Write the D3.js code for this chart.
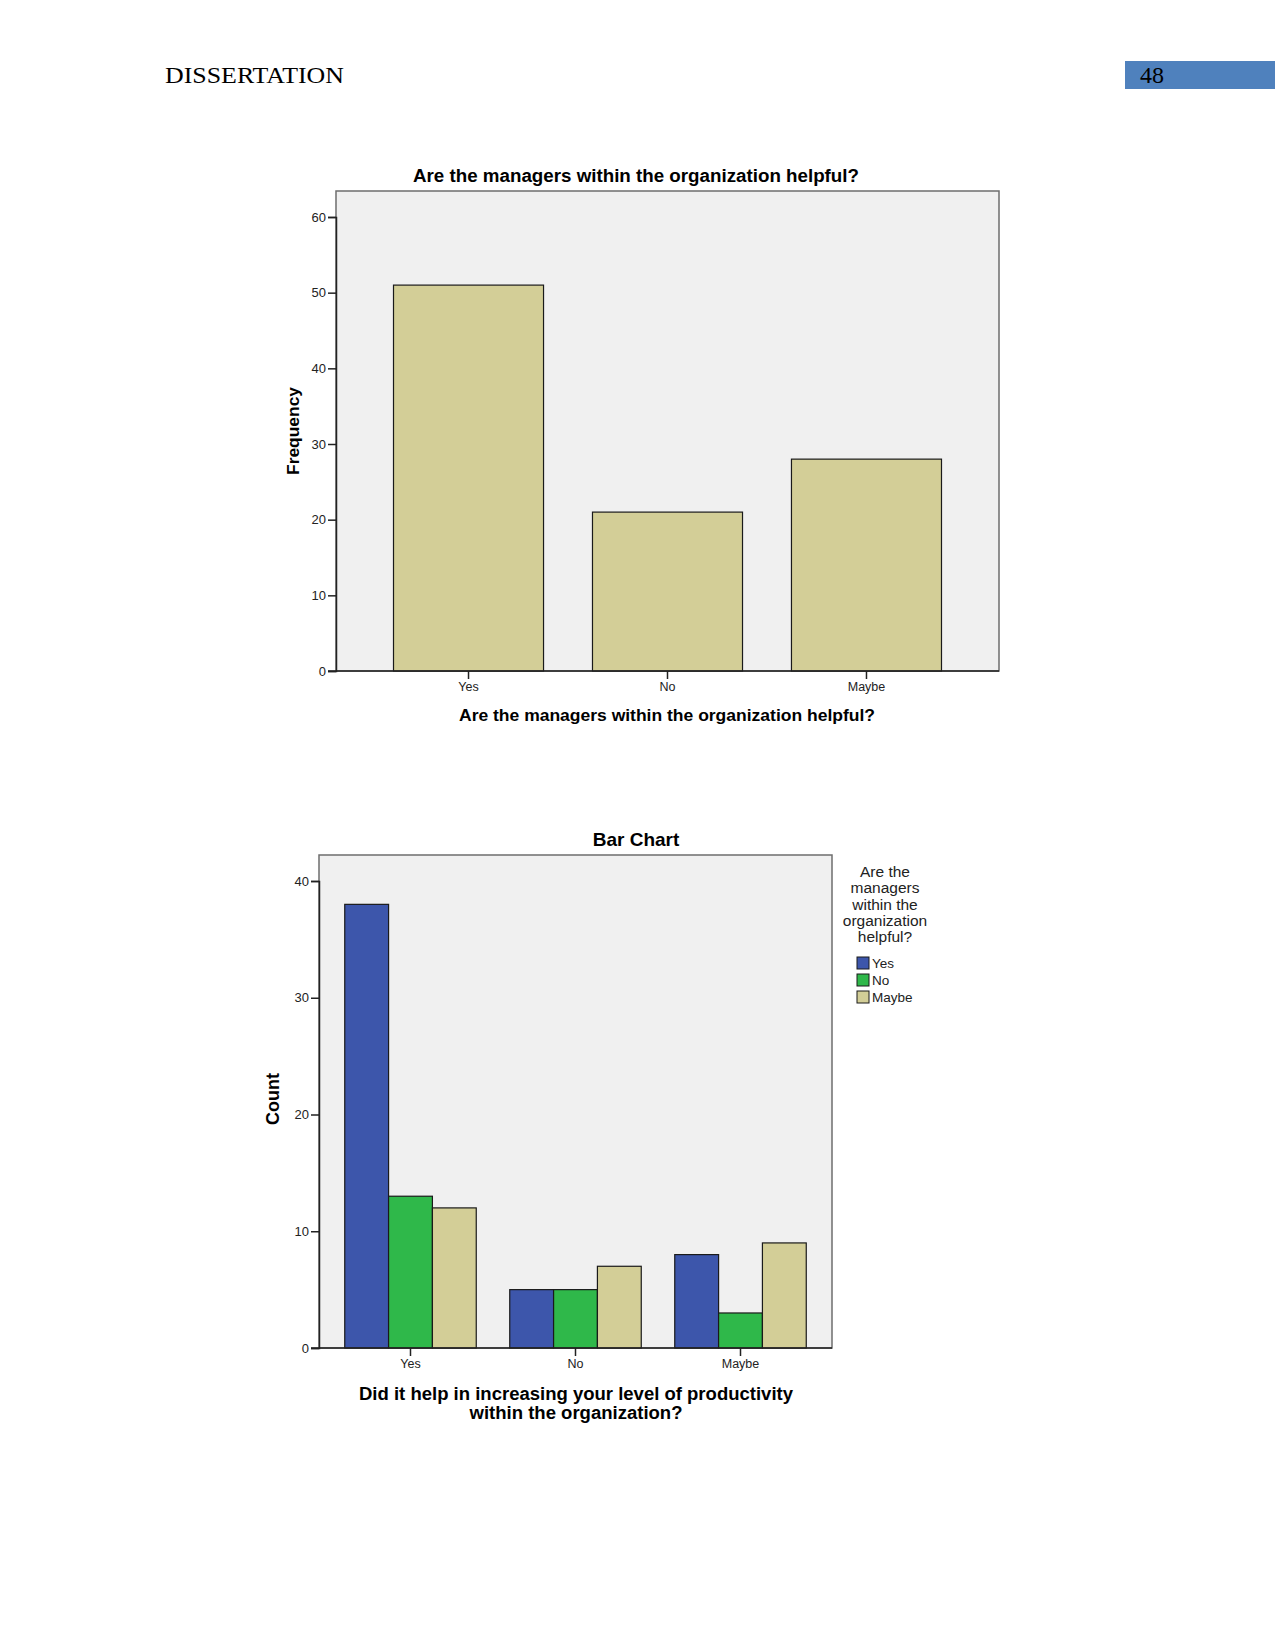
<!DOCTYPE html>
<html>
<head>
<meta charset="utf-8">
<script src="https://cdn.jsdelivr.net/npm/d3@7"></script>
<style>
  html, body { margin: 0; padding: 0; background: #ffffff; }
  svg { display: block; }
</style>
</head>
<body>
<svg id="page" width="1275" height="1650"></svg>
<script>
// ---- Data ----
const headerTitle = "DISSERTATION";
const pageNumber = "48";

const chart1Title = "Are the managers within the organization helpful?";
const chart1XTitle = "Are the managers within the organization helpful?";
const chart1YTitle = "Frequency";
const chart1Categories = ["Yes", "No", "Maybe"];
const chart1Values = [51, 21, 28];
const chart1Ticks = [0, 10, 20, 30, 40, 50, 60];

const chart2Title = "Bar Chart";
const chart2XTitleLines = ["Did it help in increasing your level of productivity", "within the organization?"];
const chart2YTitle = "Count";
const chart2Categories = ["Yes", "No", "Maybe"];
const chart2Series = ["Yes", "No", "Maybe"];
const chart2Values = {
  Yes:   [38, 5, 8],
  No:    [13, 5, 3],
  Maybe: [12, 7, 9]
};
const chart2Ticks = [0, 10, 20, 30, 40];
const legendTitleLines = ["Are the", "managers", "within the", "organization", "helpful?"];
const seriesColors = ["#3d56ab", "#2fb84a", "#d3ce97"];

// ---- Drawing ----
const svg = d3.select("#page");
const FONT = "'Liberation Sans', Arial, sans-serif";
const SERIF = "'Liberation Serif', 'Times New Roman', serif";

// Header
svg.append("text").attr("x", 165).attr("y", 83)
  .attr("font-family", SERIF).attr("font-size", 24).attr("fill", "#000")
  .attr("textLength", 179).attr("lengthAdjust", "spacingAndGlyphs").text(headerTitle);
svg.append("rect").attr("x", 1125).attr("y", 61).attr("width", 150).attr("height", 28)
  .attr("fill", "#4f81bd");
svg.append("text").attr("x", 1140).attr("y", 83)
  .attr("font-family", SERIF).attr("font-size", 24).attr("fill", "#000")
  .attr("textLength", 24).attr("lengthAdjust", "spacingAndGlyphs").text(pageNumber);

function drawFrame(g, x0, y0, x1, y1) {
  g.append("rect").attr("x", x0).attr("y", y0).attr("width", x1 - x0).attr("height", y1 - y0)
    .attr("fill", "#f0f0f0").attr("stroke", "#6e6e6e").attr("stroke-width", 1.5);
}

function drawYAxis(g, y, x0, ticks) {
  const ax = g.append("g").attr("transform", `translate(${x0},0)`)
    .call(d3.axisLeft(y).tickValues(ticks).tickSize(8).tickPadding(2).tickFormat(d3.format("d")));
  ax.select(".domain").attr("stroke", "#222").attr("stroke-width", 1.5);
  ax.selectAll(".tick line").attr("stroke", "#222").attr("stroke-width", 1.5);
  ax.selectAll(".tick text").attr("font-family", FONT).attr("font-size", 13).attr("fill", "#222");
}

function drawXAxis(g, x, yBase, x0, x1) {
  const ax = g.append("g").attr("transform", `translate(0,${yBase})`)
    .call(d3.axisBottom(x).tickSize(8).tickPadding(3).tickSizeOuter(0));
  ax.select(".domain").remove();
  ax.selectAll(".tick line").attr("stroke", "#222").attr("stroke-width", 1.5);
  ax.selectAll(".tick text").attr("font-family", FONT).attr("font-size", 12.5).attr("fill", "#222");
  g.append("line").attr("x1", x0 - 8).attr("x2", x1).attr("y1", yBase).attr("y2", yBase)
    .attr("stroke", "#222").attr("stroke-width", 1.5);
}

// ---- Chart 1 ----
{
  const g = svg.append("g");
  const L = 336, R = 999, T = 191, B = 671;
  drawFrame(g, L, T, R, B);
  const y = d3.scaleLinear().domain([0, 60]).range([B, 217]);
  const x = d3.scaleBand().domain(chart1Categories).range([L, R]).paddingInner(0.246).paddingOuter(0.289);
  g.selectAll("rect.bar").data(chart1Categories).enter().append("rect").attr("class", "bar")
    .attr("x", d => x(d)).attr("width", x.bandwidth())
    .attr("y", (d, i) => y(chart1Values[i])).attr("height", (d, i) => B - y(chart1Values[i]))
    .attr("fill", "#d3ce97").attr("stroke", "#1a1a1a").attr("stroke-width", 1.2);
  drawYAxis(g, y, L, chart1Ticks);
  drawXAxis(g, x, B, L, R);
  g.append("text").attr("x", 636).attr("y", 182).attr("text-anchor", "middle")
    .attr("font-family", FONT).attr("font-weight", "bold").attr("font-size", 18)
    .attr("textLength", 446).attr("lengthAdjust", "spacingAndGlyphs").text(chart1Title);
  g.append("text").attr("x", 667).attr("y", 721).attr("text-anchor", "middle")
    .attr("font-family", FONT).attr("font-weight", "bold").attr("font-size", 16)
    .attr("textLength", 416).attr("lengthAdjust", "spacingAndGlyphs").text(chart1XTitle);
  g.append("text").attr("transform", "translate(299,431) rotate(-90)").attr("text-anchor", "middle")
    .attr("font-family", FONT).attr("font-weight", "bold").attr("font-size", 17)
    .attr("textLength", 88).attr("lengthAdjust", "spacingAndGlyphs").text(chart1YTitle);
}

// ---- Chart 2 ----
{
  const g = svg.append("g");
  const L = 319, R = 832, T = 855, B = 1348;
  drawFrame(g, L, T, R, B);
  const y = d3.scaleLinear().domain([0, 40]).range([B, 881]);
  const x = d3.scaleBand().domain(chart2Categories).range([L, R]).paddingInner(0.203).paddingOuter(0.156);
  const xs = d3.scaleBand().domain(chart2Series).range([0, x.bandwidth()]);
  const color = d3.scaleOrdinal().domain(chart2Series).range(seriesColors);
  const groups = g.selectAll("g.grp").data(chart2Categories).enter().append("g")
    .attr("transform", d => `translate(${x(d)},0)`);
  groups.selectAll("rect").data((d, ci) => chart2Series.map(s => ({ s, v: chart2Values[s][ci] })))
    .enter().append("rect")
    .attr("x", d => xs(d.s)).attr("width", xs.bandwidth())
    .attr("y", d => y(d.v)).attr("height", d => B - y(d.v))
    .attr("fill", d => color(d.s)).attr("stroke", "#1a1a1a").attr("stroke-width", 1.2);
  drawYAxis(g, y, L, chart2Ticks);
  drawXAxis(g, x, B, L, R);
  g.append("text").attr("x", 636).attr("y", 846).attr("text-anchor", "middle")
    .attr("font-family", FONT).attr("font-weight", "bold").attr("font-size", 19).text(chart2Title);
  const xtLens = [434, 213];
  g.selectAll("text.xt").data(chart2XTitleLines).enter().append("text")
    .attr("x", 576).attr("y", (d, i) => 1400 + i * 19).attr("text-anchor", "middle")
    .attr("font-family", FONT).attr("font-weight", "bold").attr("font-size", 17.5)
    .attr("textLength", (d, i) => xtLens[i]).attr("lengthAdjust", "spacingAndGlyphs").text(d => d);
  g.append("text").attr("transform", "translate(279,1099) rotate(-90)").attr("text-anchor", "middle")
    .attr("font-family", FONT).attr("font-weight", "bold").attr("font-size", 18).text(chart2YTitle);

  // Legend
  const lg = g.append("g");
  lg.selectAll("text.lt").data(legendTitleLines).enter().append("text")
    .attr("x", 885).attr("y", (d, i) => 877 + i * 16.3).attr("text-anchor", "middle")
    .attr("font-family", FONT).attr("font-size", 15.5).attr("fill", "#222").text(d => d);
  const items = lg.selectAll("g.li").data(chart2Series).enter().append("g")
    .attr("transform", (d, i) => `translate(857,${957 + i * 17})`);
  items.append("rect").attr("width", 12).attr("height", 12)
    .attr("fill", d => color(d)).attr("stroke", "#1a1a1a").attr("stroke-width", 1);
  items.append("text").attr("x", 15).attr("y", 11)
    .attr("font-family", FONT).attr("font-size", 13.5).attr("fill", "#222").text(d => d);
}
</script>
</body>
</html>
